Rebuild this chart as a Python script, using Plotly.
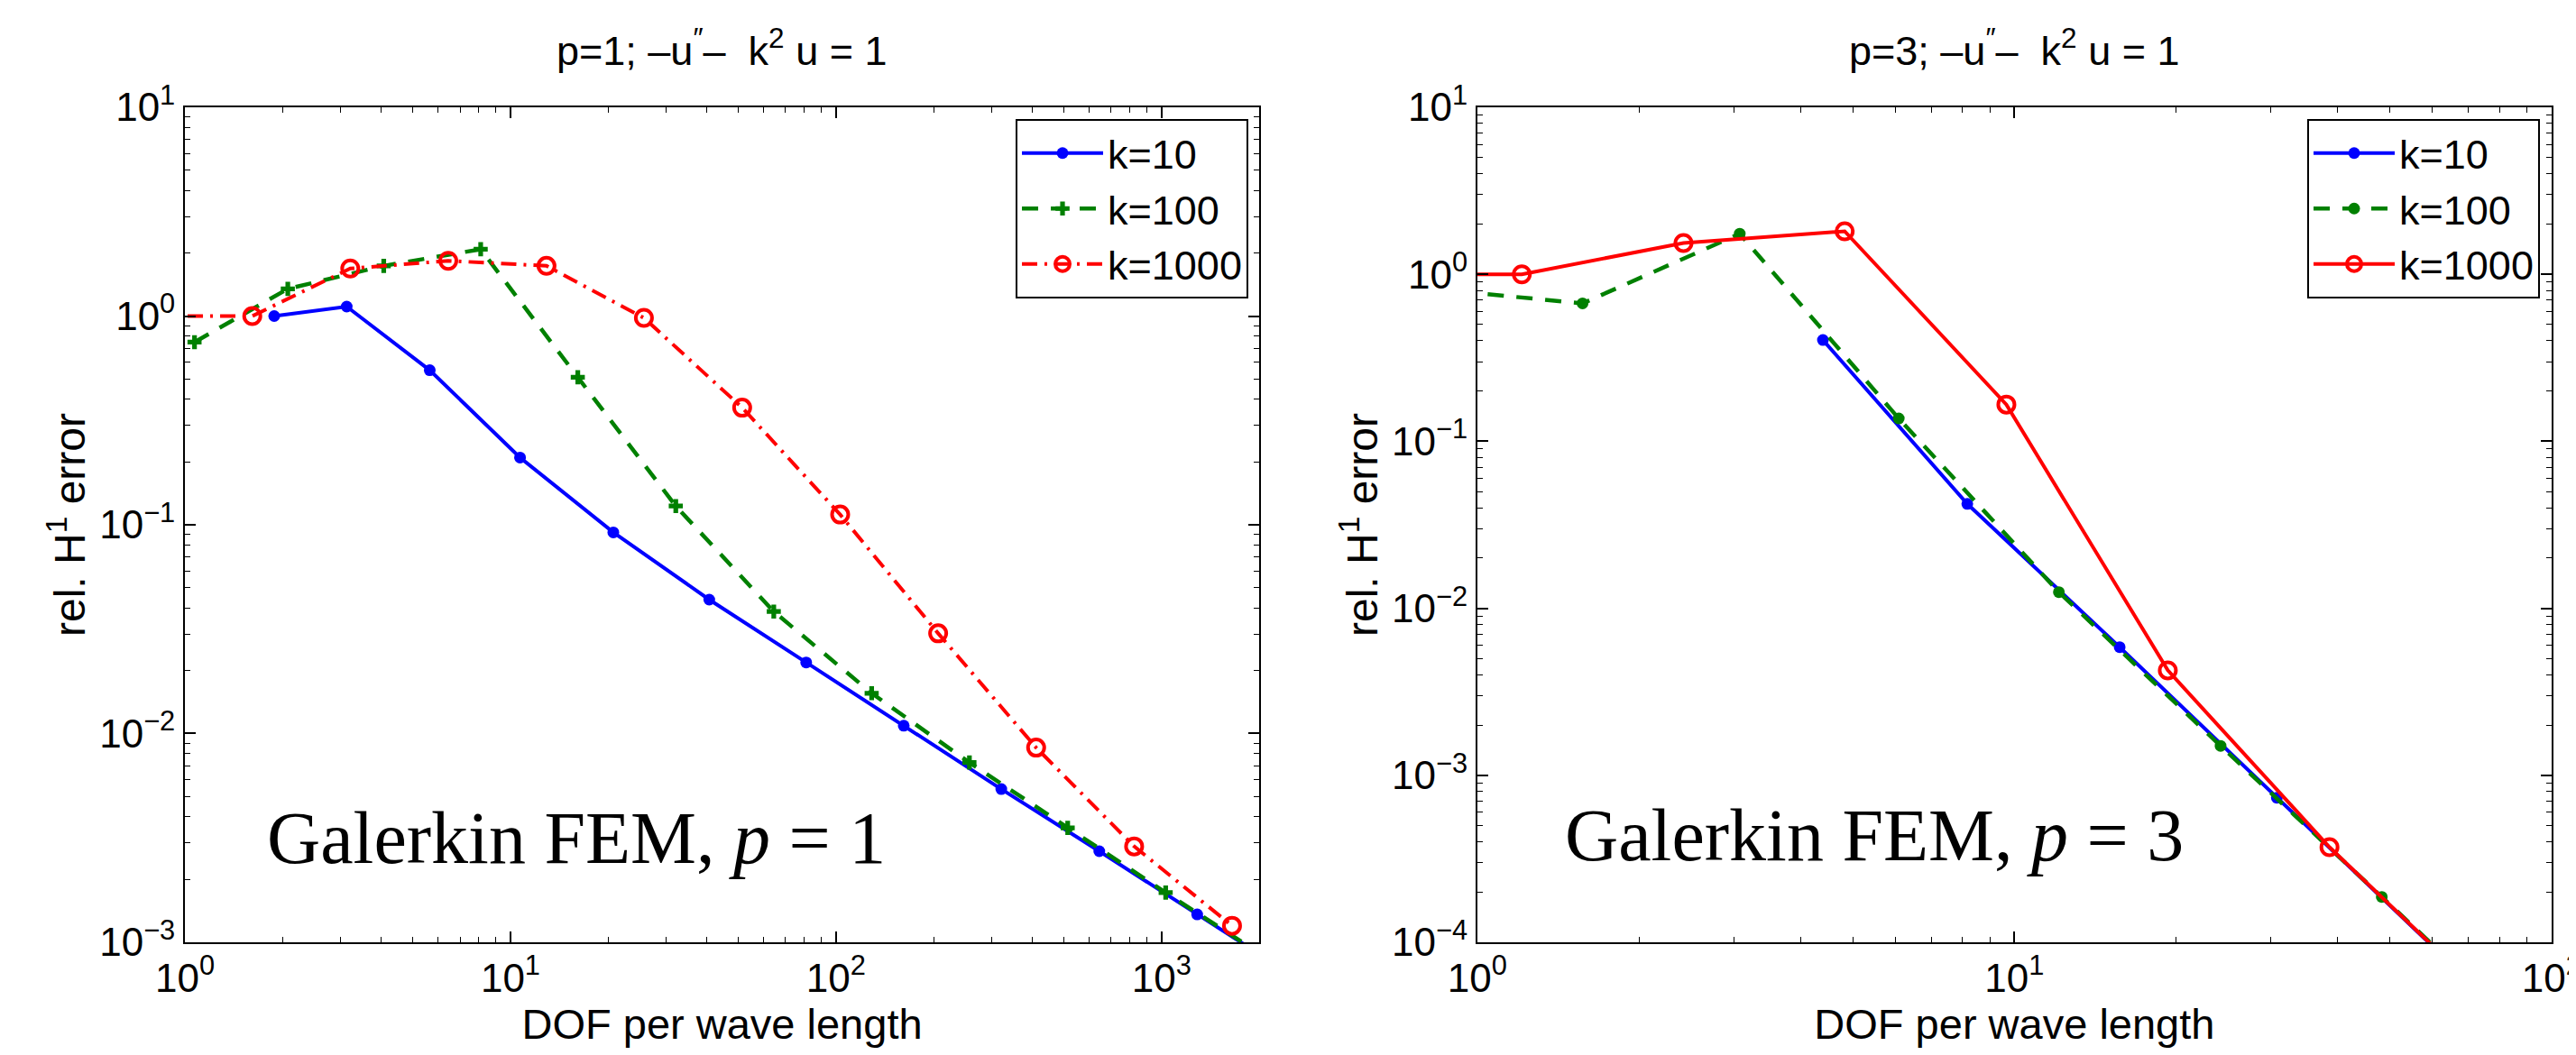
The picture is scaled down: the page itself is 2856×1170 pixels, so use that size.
import plotly.graph_objects as go

# ---------------- data ----------------
# p = 1
x_k10_p1 = [1.88, 3.14, 5.65, 10.7, 20.7, 40.8, 81.0, 161.5, 322, 644, 1287, 2574]
y_k10_p1 = [1.00, 1.11, 0.55, 0.21, 0.092, 0.0438, 0.0219, 0.0109, 0.00542, 0.00273, 0.00136, 0.00068]

x_k100_p1 = [1.07, 2.07, 4.08, 8.1, 16.1, 32.2, 64.4, 128.7, 257, 515, 1030, 2059]
y_k100_p1 = [0.75, 1.35, 1.74, 2.09, 0.509, 0.123, 0.0384, 0.0156, 0.00726, 0.00353, 0.00173, 0.00086]

x_k1000_p1 = [0.81, 1.61, 3.22, 6.44, 12.9, 25.7, 51.5, 103, 206, 412, 824, 1647]
y_k1000_p1 = [1.00, 1.00, 1.69, 1.84, 1.74, 0.98, 0.364, 0.112, 0.0302, 0.00856, 0.00288, 0.0012]

# p = 3
x_k10_p3 = [4.40, 8.17, 15.7, 30.8, 60.9]
y_k10_p3 = [0.404, 0.0422, 0.00585, 0.000734, 0.0000906]

x_k100_p3 = [0.817, 1.57, 3.08, 6.09, 12.1, 24.2, 48.3, 96.5]
y_k100_p3 = [0.82, 0.67, 1.75, 0.137, 0.0125, 0.00150, 0.000187, 0.000023]

x_k1000_p3 = [0.61, 1.21, 2.42, 4.83, 9.66, 19.3, 38.6, 77.2]
y_k1000_p3 = [1.0, 1.0, 1.54, 1.81, 0.166, 0.00425, 0.000371, 0.000044]

series_names = ["k=10", "k=100", "k=1000"]
titles = ["p=1; \u2013u<sup>\u2033</sup>\u2013  k<sup>2</sup> u = 1",
          "p=3; \u2013u<sup>\u2033</sup>\u2013  k<sup>2</sup> u = 1"]
labels = ["Galerkin FEM, <i>p</i> = 1", "Galerkin FEM, <i>p</i> = 3"]
x_title = "DOF per wave length"
y_title = "rel. H<sup>1</sup> error"

x_decades_p1 = [0, 1, 2, 3]
x_decades_p3 = [0, 1, 2]
y_decades_p1 = [-3, -2, -1, 0, 1]
y_decades_p3 = [-4, -3, -2, -1, 0, 1]

BLUE = "#0000ff"
GREEN = "#008000"
RED = "#ff0000"
SANS = "Liberation Sans, Arial, sans-serif"
SERIF = "Liberation Serif, Times New Roman, serif"

fig = go.Figure()

# left plot traces
fig.add_trace(go.Scatter(x=x_k10_p1, y=y_k10_p1, name=series_names[0], mode="lines+markers",
                         line=dict(color=BLUE, width=4),
                         marker=dict(symbol="circle", size=13, color=BLUE),
                         xaxis="x", yaxis="y", legend="legend"))
fig.add_trace(go.Scatter(x=x_k100_p1, y=y_k100_p1, name=series_names[1], mode="lines+markers",
                         line=dict(color=GREEN, width=4.5, dash="18px,14px"),
                         marker=dict(symbol="cross", size=13, color=GREEN),
                         xaxis="x", yaxis="y", legend="legend"))
fig.add_trace(go.Scatter(x=x_k1000_p1, y=y_k1000_p1, name=series_names[2], mode="lines+markers",
                         line=dict(color=RED, width=4, dash="17px,8px,3px,8px"),
                         marker=dict(symbol="circle-open", size=18, color=RED, line=dict(width=4, color=RED)),
                         xaxis="x", yaxis="y", legend="legend"))

# right plot traces
fig.add_trace(go.Scatter(x=x_k10_p3, y=y_k10_p3, name=series_names[0], mode="lines+markers",
                         line=dict(color=BLUE, width=4),
                         marker=dict(symbol="circle", size=13, color=BLUE),
                         xaxis="x2", yaxis="y2", legend="legend2"))
fig.add_trace(go.Scatter(x=x_k100_p3, y=y_k100_p3, name=series_names[1], mode="lines+markers",
                         line=dict(color=GREEN, width=4.5, dash="18px,14px"),
                         marker=dict(symbol="circle", size=13, color=GREEN),
                         xaxis="x2", yaxis="y2", legend="legend2"))
fig.add_trace(go.Scatter(x=x_k1000_p3, y=y_k1000_p3, name=series_names[2], mode="lines+markers",
                         line=dict(color=RED, width=4),
                         marker=dict(symbol="circle-open", size=18, color=RED, line=dict(width=4, color=RED)),
                         xaxis="x2", yaxis="y2", legend="legend2"))


def dec_label(p):
    s = str(p) if p >= 0 else "\u2212" + str(-p)
    return "10<sup>" + s + "</sup>"


def minor_vals(decades):
    out = []
    for d in decades[:-1]:
        for m in range(2, 10):
            out.append(m * 10 ** d)
    return out


def log_axis(decades, rng, domain, anchor, title, title_size, standoff):
    return dict(
        type="log", range=rng, domain=domain, anchor=anchor,
        tickmode="array", tickvals=[10 ** d for d in decades],
        ticktext=[dec_label(d) for d in decades],
        ticks="inside", ticklen=12, tickwidth=1.5, tickcolor="black",
        minor=dict(tickmode="array", tickvals=minor_vals(decades + [decades[-1] + 1]),
                   ticks="inside", ticklen=6, tickwidth=1.2, tickcolor="black", showgrid=False),
        showline=True, linecolor="black", linewidth=2, mirror="ticks",
        showgrid=False, zeroline=False, automargin=False,
        tickfont=dict(family=SANS, size=44, color="black"),
        title=dict(text=title, font=dict(family=SANS, size=title_size, color="black"), standoff=standoff),
    )


ydom = [0.1137, 0.9051]
legend_common = dict(bgcolor="white", bordercolor="black", borderwidth=2,
                     font=dict(family=SANS, size=45, color="black"), itemwidth=90,
                     tracegroupgap=0)
fig.update_layout(
    width=2856, height=1170,
    margin=dict(l=0, r=0, t=0, b=0),
    paper_bgcolor="white", plot_bgcolor="white",
    showlegend=True,
    xaxis=log_axis(x_decades_p1, [0, 3.3], [0.0690, 0.4860], "y", x_title, 47, 6),
    yaxis=log_axis(y_decades_p1, [-3, 1], ydom, "x", y_title, 48, 0),
    xaxis2=log_axis(x_decades_p3, [0, 2], [0.5707, 0.9877], "y2", x_title, 47, 6),
    yaxis2=log_axis(y_decades_p3, [-4, 1], ydom, "x2", y_title, 48, 0),
    legend=dict(x=0.4818, y=0.894, xanchor="right", yanchor="top", **legend_common),
    legend2=dict(x=0.9832, y=0.894, xanchor="right", yanchor="top", **legend_common),
    annotations=[
        dict(text=titles[0], x=0.2773, y=0.9615, xref="paper", yref="paper",
             xanchor="center", yanchor="middle", showarrow=False,
             font=dict(family=SANS, size=45, color="black")),
        dict(text=titles[1], x=0.7791, y=0.9615, xref="paper", yref="paper",
             xanchor="center", yanchor="middle", showarrow=False,
             font=dict(family=SANS, size=45, color="black")),
        dict(text=labels[0], x=0.2208, y=0.212, xref="paper", yref="paper",
             xanchor="center", yanchor="middle", showarrow=False,
             font=dict(family=SERIF, size=82, color="black")),
        dict(text=labels[1], x=0.7248, y=0.215, xref="paper", yref="paper",
             xanchor="center", yanchor="middle", showarrow=False,
             font=dict(family=SERIF, size=82, color="black")),
    ],
)

fig.write_html("out.html")
